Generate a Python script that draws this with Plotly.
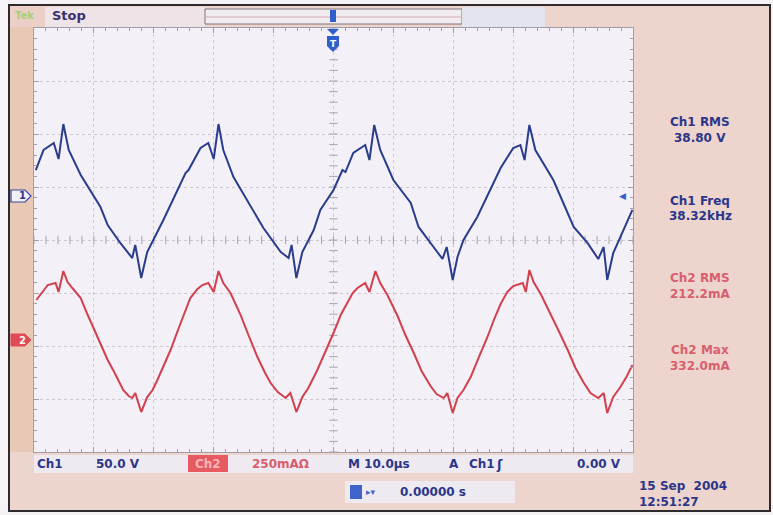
import plotly.graph_objects as go
import numpy as np

# ---------------- data (read from the screen capture) ----------------
# time in microseconds (trigger at 0, 10 us/div)
t_ch1 = [-49.7, -48.4, -46.7, -45.9, -45.1, -44.2, -42.2, -38.9, -37.7, -35.6,
         -33.6, -33.1, -32.1, -31.1, -28.4, -24.7, -24.2, -22.2, -20.9, -20.0,
         -19.2, -18.4, -16.7, -13.4, -11.7, -8.8, -7.5, -7.0, -6.2, -5.2,
         -3.3, -2.2, 0.0, 1.5, 2.0, 3.3, 5.3, 6.0, 6.8, 7.8,
         10.0, 12.9, 14.2, 16.7, 18.2, 18.9, 19.9, 20.7, 21.7, 24.0,
         27.4, 27.9, 30.0, 31.2, 31.9, 32.7, 33.7, 36.7, 40.1, 42.4,
         44.2, 45.1, 45.7, 46.7, 49.9]
# Ch1 voltage (V)
v_ch1 = [24.5, 43.4, 50.0, 34.9, 67.9, 43.4, 19.8, -10.4, -27.4, -44.3,
         -58.5, -46.2, -77.4, -52.8, -22.6, 21.7, 24.5, 45.3, 50.0, 34.9,
         67.9, 43.4, 17.9, -13.2, -30.2, -52.8, -58.5, -46.2, -77.4, -52.8,
         -32.1, -13.2, 5.7, 24.5, 22.6, 40.6, 48.1, 33.9, 67.0, 43.4,
         15.1, -6.6, -29.2, -48.1, -59.4, -48.1, -79.2, -57.5, -41.5, -19.8,
         21.7, 26.4, 45.3, 48.1, 33.9, 67.0, 43.4, 15.1, -29.2, -44.3,
         -59.4, -48.1, -79.2, -53.8, -13.2]

t_ch2 = [-49.6, -47.7, -46.4, -45.9, -45.1, -44.4, -43.6,
         -42.2, -41.1, -39.7, -38.9, -37.7, -36.7, -35.9, -35.1, -34.2, -33.6, -33.1, -32.1, -31.1,
         -30.2, -29.4, -28.4, -27.2, -25.9, -24.7, -23.9, -22.7, -21.9, -20.9, -20.0, -19.2, -18.4,
         -17.2, -15.5, -14.2, -12.7, -11.5, -10.5, -9.3, -8.0, -7.2, -6.2, -5.2,
         -4.2, -2.7, -1.3, 0.0, 1.2, 2.3, 3.2, 4.0, 5.3, 6.0, 7.0, 7.8,
         9.0, 10.7, 12.0, 13.4, 14.7, 16.2, 17.2, 18.4, 19.0, 19.9, 20.7,
         21.7, 22.9, 24.2, 25.7, 26.9, 27.9, 29.0, 30.0, 31.6, 32.1, 32.7, 33.4,
         34.6, 36.2, 37.6, 39.1, 40.4, 41.7, 42.9, 44.2, 45.1, 45.7, 46.7,
         47.9, 48.9, 49.9]
# Ch2 current (mA)
i_ch2 = [188.7, 259.4, 268.9, 226.4, 325.5, 273.6, 245.3,
         198.1, 122.6, 33.0, -23.6, -94.3, -146.2, -193.4, -235.9, -264.2, -273.6, -250.0, -339.6, -268.9,
         -235.9, -188.7, -127.4, -47.2, 51.9, 141.5, 198.1, 240.6, 259.4, 268.9, 226.4, 325.5, 268.9,
         221.7, 117.9, 23.6, -80.2, -150.9, -202.8, -245.3, -273.6, -250.0, -339.6, -268.9,
         -226.4, -141.5, -51.9, 33.0, 117.9, 179.2, 221.7, 245.3, 268.9, 226.4, 325.5, 268.9,
         212.3, 113.2, 23.6, -61.3, -146.2, -217.0, -254.7, -273.6, -250.0, -344.3, -273.6,
         -235.9, -174.5, -84.9, 14.2, 103.8, 169.8, 226.4, 254.7, 268.9, 226.4, 330.2, 273.6,
         217.0, 127.4, 42.5, -47.2, -132.1, -198.1, -250.0, -273.6, -250.0, -344.3, -268.9,
         -221.7, -174.5, -117.9]

# scope settings
TDIV = 10.0        # us / div
CH1_SCALE = 50.0   # V / div
CH2_SCALE = 250.0  # mA / div
CH1_POS = 0.83     # ground marker position, divisions from centre
CH2_POS = -1.887
NDIV_X, NDIV_Y = 10, 8

measurements = [("Ch1 RMS", "38.80 V", "ch1"), ("Ch1 Freq", "38.32kHz", "ch1"),
                ("Ch2 RMS", "212.2mA", "ch2"), ("Ch2 Max", "332.0mA", "ch2")]

# ---------------- styling ----------------
W, H = 773, 515
NAVY = "#2B3689"
BLUE_TRACE = "#2A3C8C"
RED_TRACE = "#D2404E"
RED_TEXT = "#D8606E"
PINK = "#EDD4CC"
PLOT_BG = "#F3F0F7"
GRID = "#CEC9D5"
FONT = "DejaVu Sans"


def fx(x):
    return x / W


def fy(y):
    return 1 - y / H


L, R, T, B = 34, 633, 28, 452

fig = go.Figure()

# decorative centre-cross ticks (grid units)
xt = np.arange(-NDIV_X / 2 * TDIV, NDIV_X / 2 * TDIV + 0.01, TDIV / 5)
yt = np.arange(-NDIV_Y / 2, NDIV_Y / 2 + 0.01, 0.2)
fig.add_trace(go.Scatter(x=xt, y=np.zeros_like(xt), mode="markers", xaxis="x", yaxis="y",
                         marker=dict(symbol="line-ns", size=6, line=dict(width=1, color="#A7A2B0")),
                         hoverinfo="skip", showlegend=False))
fig.add_trace(go.Scatter(x=np.zeros_like(yt), y=yt, mode="markers", xaxis="x", yaxis="y",
                         marker=dict(symbol="line-ew", size=6, line=dict(width=1, color="#A7A2B0")),
                         hoverinfo="skip", showlegend=False))

fig.add_trace(go.Scatter(x=t_ch1, y=v_ch1, mode="lines", xaxis="x", yaxis="y2",
                         line=dict(color=BLUE_TRACE, width=2), showlegend=False, name="Ch1"))
fig.add_trace(go.Scatter(x=t_ch2, y=i_ch2, mode="lines", xaxis="x", yaxis="y3",
                         line=dict(color=RED_TRACE, width=2), showlegend=False, name="Ch2"))

xr = [-NDIV_X / 2 * TDIV, NDIV_X / 2 * TDIV]
ch1_range = [(-NDIV_Y / 2 - CH1_POS) * CH1_SCALE, (NDIV_Y / 2 - CH1_POS) * CH1_SCALE]
ch2_range = [(-NDIV_Y / 2 - CH2_POS) * CH2_SCALE, (NDIV_Y / 2 - CH2_POS) * CH2_SCALE]

dom_x = [fx(L), fx(R)]
dom_y = [fy(B), fy(T)]

fig.update_layout(
    width=W, height=H,
    margin=dict(l=0, r=0, t=0, b=0),
    paper_bgcolor=PINK, plot_bgcolor=PLOT_BG,
    xaxis=dict(domain=dom_x, range=xr, dtick=TDIV, tick0=0, showgrid=True,
               gridcolor=GRID, griddash="dot", gridwidth=1, zeroline=False,
               showticklabels=False, showline=True, linecolor="#A29DAA", linewidth=1,
               mirror="ticks", ticks="inside", ticklen=5, tickcolor="#A29DAA",
               minor=dict(dtick=TDIV / 5, ticks="inside", ticklen=3, tickcolor="#A29DAA"),
               fixedrange=True),
    yaxis=dict(domain=dom_y, range=[-NDIV_Y / 2, NDIV_Y / 2], dtick=1, tick0=0, showgrid=True,
               gridcolor=GRID, griddash="dot", gridwidth=1, zeroline=False,
               showticklabels=False, showline=True, linecolor="#A29DAA", linewidth=1,
               mirror="ticks", ticks="inside", ticklen=5, tickcolor="#A29DAA",
               minor=dict(dtick=0.2, ticks="inside", ticklen=3, tickcolor="#A29DAA"),
               fixedrange=True),
    yaxis2=dict(domain=dom_y, range=ch1_range, overlaying="y", visible=False, fixedrange=True),
    yaxis3=dict(domain=dom_y, range=ch2_range, overlaying="y", visible=False, fixedrange=True),
)

shapes = []


def rect(x0, y0, x1, y1, fill, line=None, lw=0):
    shapes.append(dict(type="rect", xref="paper", yref="paper",
                       x0=fx(x0), x1=fx(x1), y0=fy(y1), y1=fy(y0),
                       fillcolor=fill, line=dict(color=line or fill, width=lw), layer="below"))


def path(pts, fill, line=None, lw=0):
    d = "M " + " L ".join(f"{fx(a):.5f},{fy(b):.5f}" for a, b in pts) + " Z"
    shapes.append(dict(type="path", xref="paper", yref="paper", path=d,
                       fillcolor=fill, line=dict(color=line or fill, width=lw), layer="above"))


# outer white margin + frame
rect(0, 0, 773, 5, "#F4F2F2")
rect(0, 0, 9, 515, "#F6F4F4")
rect(770, 0, 773, 515, "#F4F2F2")
rect(0, 511, 773, 515, "#F4F2F2")
shapes.append(dict(type="rect", xref="paper", yref="paper", x0=fx(9), x1=fx(770),
                   y0=fy(511), y1=fy(5), line=dict(color="#2E2A2E", width=2), layer="below"))
# left tan strip
rect(10, 27, 34, 452, "#E9C9B6")
# top bar
rect(10, 7, 205, 27, "#EEE4E8")
rect(10, 7, 45, 27, "#ECCFC6")
rect(205, 9, 462, 24, "#F1ECF1", "#7E7480", 1)
shapes.append(dict(type="line", xref="paper", yref="paper", x0=fx(205), x1=fx(462),
                   y0=fy(17), y1=fy(17), line=dict(color="#D8A8B2", width=1), layer="below"))
rect(462, 7, 545, 27, "#E3E4EE")
# bottom rows
rect(34, 455, 633, 473, "#EFEAF1")
rect(188, 455, 228, 472, "#E85A62")
rect(345, 481, 515, 503, "#EDEAF2")
rect(350, 485, 362, 499, "#3F63C8")

# trigger markers at top
path([(330, 10), (336, 10), (336, 22), (330, 22)], "#2F5FCB")
path([(327, 29), (339, 29), (333, 35)], "#2F5FCB")
path([(327, 36), (339, 36), (339, 46), (333, 52), (327, 46)], "#2F5FCB")
# channel ground markers
path([(11, 190), (25, 190), (31, 196), (25, 202), (11, 202)], "#F4F0F8", "#3346A0", 1.2)
path([(11, 334), (25, 334), (31, 340), (25, 346), (11, 346)], "#E04A57", "#E04A57", 1)

fig.update_layout(shapes=shapes)

ann = []


def text(x, y, s, color, size=12, xanchor="left", bold=True):
    ann.append(dict(x=fx(x), y=fy(y), xref="paper", yref="paper", showarrow=False,
                    text=f"<b>{s}</b>" if bold else s, xanchor=xanchor, yanchor="middle",
                    font=dict(family=FONT, size=size, color=color)))


text(13, 16, "Tek", "#A8CF7A", 10)
text(50, 16, "Stop", "#3A3070", 13)
text(333, 44, "T", "#FFFFFF", 9, "center")
text(17, 196, "1", NAVY, 10)
text(17, 340, "2", "#FFFFFF", 10)
text(622, 196, "◀", "#2F5FCB", 9, "center", False)

ys = [(122, 138), (201, 216), (278, 294), (350, 366)]
for (name, val, ch), (y1, y2) in zip(measurements, ys):
    col = NAVY if ch == "ch1" else RED_TEXT
    text(700, y1, name, col, 12, "center")
    text(700, y2, val, col, 12, "center")

text(35, 464, "Ch1", NAVY, 12)
text(94, 464, "50.0 V", NAVY, 12)
text(208, 464, "Ch2", "#F3B5B8", 12, "center")
text(250, 464, "250mAΩ", RED_TEXT, 12)
text(346, 464, "M 10.0µs", NAVY, 12)
text(447, 464, "A", NAVY, 12)
text(467, 464, "Ch1", NAVY, 12)
text(500, 464, "ʃ", NAVY, 13, "center")
text(575, 464, "0.00 V", NAVY, 12)
text(364, 492, "▸▾", "#3F63C8", 9)
text(398, 492, "0.00000 s", NAVY, 12)
text(637, 486, "15 Sep  2004", NAVY, 12)
text(637, 502, "12:51:27", NAVY, 12)

fig.update_layout(annotations=ann)

fig.write_html("out.html")
